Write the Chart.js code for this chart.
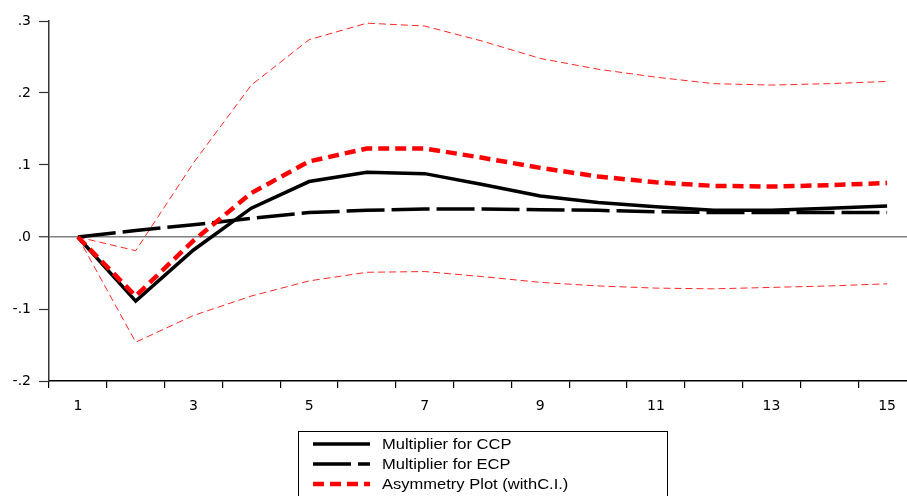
<!DOCTYPE html>
<html>
<head>
<meta charset="utf-8">
<script src="https://cdn.jsdelivr.net/npm/chart.js@4/dist/chart.umd.min.js"></script>
<style>
    html, body { margin: 0; padding: 0; background: #fff; overflow: hidden; }
    #wrap { position: relative; width: 920px; height: 496px; }
</style>
</head>
<body>
<div id="wrap"><canvas id="myChart"></canvas></div>
<script>
// periodos y series
let periodos = ["1", "2", "3", "4", "5", "6", "7", "8", "9", "10", "11", "12", "13", "14", "15"];
let ccp = [0, -0.089, -0.018, 0.040, 0.077, 0.090, 0.088, 0.073, 0.057, 0.048, 0.042, 0.037, 0.037, 0.040, 0.043];
let ecp = [0, 0.009, 0.017, 0.026, 0.034, 0.037, 0.039, 0.039, 0.038, 0.037, 0.035, 0.034, 0.034, 0.034, 0.034];
let asimetria = [0, -0.082, -0.005, 0.061, 0.105, 0.123, 0.123, 0.110, 0.096, 0.084, 0.076, 0.071, 0.070, 0.072, 0.075];
let superior = [0, -0.019, 0.103, 0.211, 0.274, 0.297, 0.293, 0.272, 0.248, 0.233, 0.222, 0.213, 0.211, 0.213, 0.216];
let inferior = [0, -0.146, -0.109, -0.082, -0.061, -0.049, -0.048, -0.055, -0.063, -0.068, -0.071, -0.072, -0.070, -0.068, -0.065];
let etiquetasLeyenda = ["Multiplier for CCP", "Multiplier for ECP", "Asymmetry Plot (withC.I.)"];

let fuenteEjes = "'DejaVu Sans', Verdana, sans-serif";
let fuenteLeyenda = "'Liberation Sans', Arial, sans-serif";

// leyenda en caja, como en el original (texto algo ensanchado)
let leyendaCaja = {
    id: "leyendaCaja",
    afterDraw(chart) {
        let ctx = chart.ctx;
        ctx.save();
        ctx.strokeStyle = "#000";
        ctx.lineWidth = 1;
        ctx.strokeRect(298.5, 431.5, 369, 80);
        let filas = [444, 464, 484];
        etiquetasLeyenda.forEach((texto, i) => {
            let ds = chart.data.datasets.find(d => d.label === texto);
            ctx.beginPath();
            ctx.strokeStyle = ds.borderColor;
            ctx.lineWidth = ds.borderWidth;
            ctx.setLineDash(ds.borderDash || []);
            ctx.moveTo(313, filas[i]);
            ctx.lineTo(370, filas[i]);
            ctx.stroke();
            ctx.setLineDash([]);

            ctx.save();
            ctx.translate(382, filas[i] + 1);
            ctx.scale(1.18, 1);
            ctx.fillStyle = "#000";
            ctx.font = "14px " + fuenteLeyenda;
            ctx.textBaseline = "middle";
            ctx.textAlign = "left";
            ctx.fillText(texto, 0, 0);
            ctx.restore();
        });
        ctx.restore();
    }
};

document.addEventListener("DOMContentLoaded", iniciar);

function iniciar() {
    let canvas = document.getElementById("myChart");
    if (!canvas) return;

    new Chart(canvas, {
        type: "line",
        data: {
            labels: periodos,
            datasets: [
                {
                    label: "Asymmetry Plot (withC.I.)",
                    data: asimetria,
                    borderColor: "#ff0000",
                    borderWidth: 4.5,
                    borderDash: [11, 6],
                    order: 0
                },
                {
                    label: "Multiplier for CCP",
                    data: ccp,
                    borderColor: "#000",
                    borderWidth: 3.5,
                    order: 1
                },
                {
                    label: "Multiplier for ECP",
                    data: ecp,
                    borderColor: "#000",
                    borderWidth: 3.5,
                    borderDash: [38, 7],
                    order: 2
                },
                {
                    label: "upper",
                    data: superior,
                    borderColor: "rgba(255,0,0,0.85)",
                    borderWidth: 1,
                    borderDash: [7, 4],
                    order: 3
                },
                {
                    label: "lower",
                    data: inferior,
                    borderColor: "rgba(255,0,0,0.85)",
                    borderWidth: 1,
                    borderDash: [7, 4],
                    order: 4
                }
            ]
        },
        options: {
            responsive: true,
            maintainAspectRatio: false,
            animation: false,
            elements: {
                point: { radius: 0 },
                line: { tension: 0, borderCapStyle: "butt", borderJoinStyle: "miter", fill: false }
            },
            layout: { padding: { top: 21, bottom: 75, left: 0, right: 4 } },
            plugins: {
                legend: { display: false },
                tooltip: { enabled: false }
            },
            scales: {
                x: {
                    type: "category",
                    offset: true,
                    afterFit: s => { s.height = 40; },
                    grid: {
                        offset: true,
                        drawOnChartArea: false,
                        tickLength: 7,
                        color: "#000",
                        lineWidth: 1.2
                    },
                    border: { display: true, color: "#000", width: 1.5 },
                    ticks: {
                        autoSkip: false,
                        maxRotation: 0,
                        padding: 10,
                        color: "#000",
                        font: { size: 14, family: fuenteEjes },
                        callback: function (v, i) { return i % 2 === 0 ? periodos[i] : ""; }
                    }
                },
                y: {
                    min: -0.2,
                    max: 0.3,
                    afterFit: s => { s.width = 49; },
                    grid: {
                        tickLength: 10,
                        color: ctx => (ctx.tick && Math.abs(ctx.tick.value) < 1e-9) ? "#808080" : "rgba(0,0,0,0)",
                        lineWidth: ctx => (ctx.tick && Math.abs(ctx.tick.value) < 1e-9) ? 1.5 : 1,
                        tickColor: "#333",
                        tickWidth: 1.2
                    },
                    border: { display: true, color: "#333", width: 1.5 },
                    ticks: {
                        stepSize: 0.1,
                        padding: 8,
                        color: "#000",
                        font: { size: 14, family: fuenteEjes },
                        callback: function (v) {
                            let t = (Math.round(v * 10) / 10).toFixed(1);
                            return t.replace("0.", ".");
                        }
                    }
                }
            }
        },
        plugins: [leyendaCaja]
    });
}
</script>
</body>
</html>
